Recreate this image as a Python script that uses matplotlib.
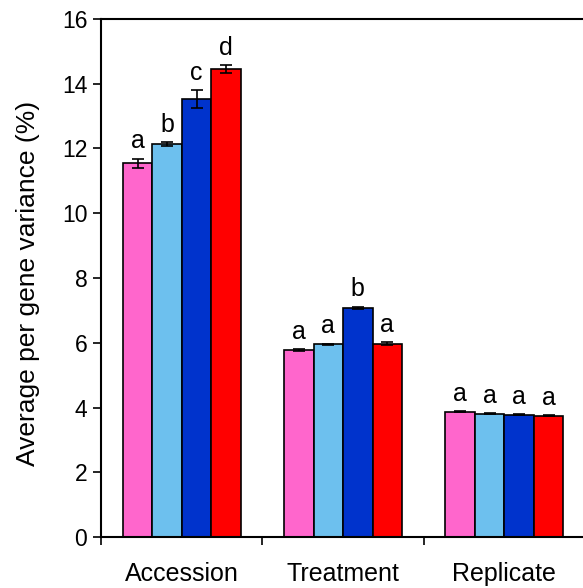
import numpy as np
import matplotlib
matplotlib.use("Agg")
import matplotlib.pyplot as plt

plt.rcParams['font.family'] = ['Liberation Sans', 'DejaVu Sans']

groups = ["Accession", "Treatment", "Replicate"]
colors = ["#FF66CC", "#6DC0EE", "#0033CC", "#FF0000"]

# average per gene variance (%) per group, four series
vals = [
    [11.54, 5.77, 3.87],
    [12.14, 5.95, 3.81],
    [13.53, 7.08, 3.78],
    [14.45, 5.97, 3.75],
]
errs = [
    [0.14, 0.03, 0.02],
    [0.06, 0.02, 0.02],
    [0.27, 0.03, 0.02],
    [0.12, 0.04, 0.02],
]
letters = [
    ["a", "a", "a"],
    ["b", "a", "a"],
    ["c", "b", "a"],
    ["d", "a", "a"],
]

fig = plt.figure(figsize=(5.83, 5.88), dpi=100)
ax = fig.add_axes([0.1735, 0.0867, 0.83, 0.881])

x = np.arange(len(groups))
w = 0.183
for i in range(4):
    xs = x + (i - 1.5) * w
    ax.bar(xs, vals[i], w, color=colors[i], edgecolor="black", linewidth=1.2, zorder=2)
    ax.errorbar(xs, vals[i], yerr=errs[i], fmt="none", ecolor="black",
                elinewidth=1.2, capsize=4, capthick=1.2, zorder=3)
    for j in range(len(groups)):
        ax.text(xs[j], vals[i][j] + errs[i][j] + 0.32, letters[i][j],
                ha="center", va="baseline", fontsize=18)

ax.set_xlim(-0.5, 2.5)
ax.set_ylim(0, 16)
ax.set_yticks(range(0, 17, 2))
ax.tick_params(axis="y", labelsize=16.5, direction="out", length=6, width=1.2, pad=4)

ax.set_xticks([-0.5, 0.5, 1.5])
ax.set_xticklabels([])
ax.tick_params(axis="x", which="major", direction="out", length=6, width=1.2)
ax.set_xticks(x, minor=True)
ax.set_xticklabels(groups, minor=True)
ax.tick_params(axis="x", which="minor", length=0, labelsize=18, pad=18)

ax.set_ylabel("Average per gene variance (%)", fontsize=19)
ax.yaxis.set_label_coords(-0.126, 0.49)

for s in ax.spines.values():
    s.set_linewidth(1.5)

fig.savefig("out.png", dpi=100)
